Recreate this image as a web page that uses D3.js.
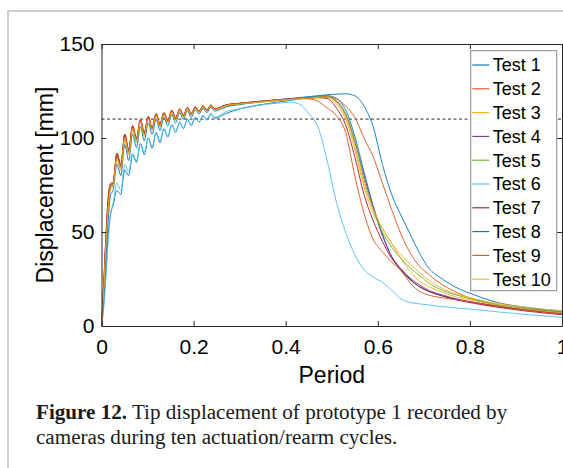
<!DOCTYPE html>
<html>
<head>
<meta charset="utf-8">
<script src="https://cdn.jsdelivr.net/npm/d3@7"></script>
<style>
  body { margin: 0; background: #fff; }
  svg { display: block; }
  .tick text { font-family: "Liberation Sans", Arial, sans-serif; }
</style>
</head>
<body>
<div id="chart"></div>
<script>
// shared period grid (x values)
const period = [0, 0.005, 0.01, 0.015, 0.02,
  0.025, 0.0335, 0.042, 0.0505, 0.059, 0.0675, 0.076, 0.0845, 0.093, 0.1015, 0.11, 0.1185, 0.127, 0.1355,
  0.144, 0.1525, 0.161, 0.1695, 0.178, 0.1865, 0.195, 0.2035, 0.212, 0.2205, 0.229, 0.2375, 0.246,
  0.27, 0.30, 0.34, 0.38, 0.41, 0.43, 0.45, 0.47, 0.49, 0.51, 0.53, 0.55, 0.57, 0.59, 0.61, 0.63,
  0.65, 0.67, 0.69, 0.71, 0.74, 0.77, 0.81, 0.86, 0.92, 1.0];

// displacement [mm] per test, one value per period entry
const test1 = [0, 12, 30, 50, 60,
  64, 72, 70, 83, 80, 91, 87, 97, 91, 100, 94.5, 103, 97.5, 105, 100.5, 107, 103, 108.5, 105, 110, 106.5, 111, 108.5, 112, 109.5, 113, 110.5,
  113, 115.5, 117.5, 119, 120, 120.8, 121.3, 122, 122.5, 121, 115, 101, 82, 64, 49, 37, 30, 24.5, 21, 18.5, 16, 14, 12.5, 10.5, 9, 7.5];
const test2 = [0, 24, 50, 70, 76,
  76, 92, 86, 102, 94, 106.5, 100, 109.5, 103, 111.5, 105.5, 113, 107.5, 113.5, 109.5, 114.8, 110.8, 115.5, 112.2, 116.3, 113, 116.6, 114.4, 117.1, 115, 117.6, 115.6,
  117, 118, 119, 120, 120.5, 121, 121.3, 121.6, 121.8, 121, 117, 111, 100, 90, 76, 62, 49, 39, 32, 27.5, 22, 18, 14, 11, 9, 7];
const test3 = [0, 18, 42, 63, 73,
  74, 88.5, 83, 99.5, 91, 104.5, 97.5, 108.2, 100.8, 110, 104, 111.8, 105.8, 112.5, 108, 113.8, 109.4, 114.6, 111, 115.5, 112, 115.8, 113.6, 116.4, 114.3, 117, 115,
  117, 118, 119, 119.8, 120.3, 120.7, 121, 121.3, 121.5, 118, 110, 94, 74, 60, 52, 44, 36, 29, 24, 21, 18, 15.5, 13.5, 11, 9, 7];
const test4 = [0, 21, 46, 66, 74.5,
  75.5, 90.5, 84.5, 101, 92.5, 105.8, 99, 109.3, 102, 110.8, 104.8, 112.5, 106.5, 113, 108.8, 114.3, 110, 115, 111.5, 116, 112.5, 116.1, 114, 116.8, 114.6, 117.3, 115.3,
  117.5, 118.4, 119.3, 120.2, 120.8, 121.2, 121.6, 122, 122, 119.5, 112.5, 98, 80, 63, 48, 37, 30.5, 25.5, 22, 19, 16.5, 14.5, 12.5, 10.5, 8.5, 6.5];
const test5 = [0, 20, 45, 65.5, 74,
  75, 90, 84.2, 100.8, 92.3, 105.6, 98.8, 109.2, 101.8, 110.7, 104.7, 112.4, 106.3, 113, 108.6, 114.2, 109.9, 115, 111.5, 115.9, 112.5, 116, 114, 116.7, 114.6, 117.3, 115.3,
  117.5, 118.4, 119.3, 120.2, 120.8, 121.3, 121.7, 122.1, 122.3, 120, 113, 99, 78, 62, 50, 42, 36, 31, 27, 23, 19, 16.5, 14, 11.5, 9.5, 7.5];
const test6 = [0, 10, 28, 47, 60,
  65, 76, 72, 86, 82, 92, 88, 97, 92.5, 100, 95.5, 102.5, 98.5, 104.5, 101, 106.5, 103.5, 108, 105.5, 109.5, 107, 110.5, 108.5, 111.5, 109.8, 112.5, 111,
  114, 115.5, 117.3, 118.5, 119, 118, 113, 106, 88, 66, 50, 38, 30, 26, 23.3, 19, 14.5, 12.5, 11.8, 11.2, 10.3, 9.6, 8.8, 7.5, 6.2, 4.6];
const test7 = [0, 23, 49, 69, 75.5,
  76, 91.8, 85.5, 102, 93.5, 106.5, 99.8, 109.8, 102.8, 111.3, 105.2, 113, 107.2, 113.4, 109.3, 114.7, 110.5, 115.3, 112, 116.2, 113, 116.4, 114.3, 117, 114.9, 117.5, 115.5,
  117.6, 118.5, 119.4, 120.2, 120.7, 121, 121.3, 121.5, 121, 116, 107, 90, 70, 56, 45, 36, 30, 25, 21, 18.5, 16, 14, 12, 10, 8, 6];
const test8 = [0, 16, 38, 58, 70,
  72, 86, 80, 96.5, 88, 102, 95, 106, 98.5, 108, 102, 110, 104, 111, 106.5, 112.5, 108, 113.5, 110, 114.5, 111, 115, 112.8, 115.8, 113.5, 116.4, 114.3,
  116.5, 117.8, 119.2, 120.3, 121, 121.5, 122, 122.5, 123, 123.3, 123.5, 122.5, 117, 106, 86, 70, 59, 49, 39, 31, 25, 20.5, 16.5, 12.5, 10, 8];
const test9 = [0, 22, 48, 68, 75,
  76, 91.5, 85, 101.5, 93, 106, 99.5, 109.8, 102.5, 111.2, 105, 112.8, 107, 113.3, 109, 114.5, 110.3, 115.2, 111.8, 116, 112.8, 116.3, 114.2, 116.9, 114.8, 117.4, 115.4,
  117.5, 118.5, 119.5, 120.3, 120.8, 121, 120.8, 119.5, 116, 112, 103, 80, 60, 46, 39.5, 34, 29.5, 23, 18.5, 16.5, 15, 14, 12.5, 10.5, 8.5, 6.5];
const test10 = [0, 19, 44, 64, 73.5,
  74.5, 89, 83.5, 100, 91.5, 105, 98, 108.6, 101, 110.2, 104.2, 112, 106, 112.6, 108.2, 113.9, 109.5, 114.7, 111.1, 115.6, 112.1, 115.8, 113.7, 116.5, 114.4, 117.1, 115,
  117.2, 118.1, 119, 119.9, 120.5, 120.9, 121.3, 121.6, 121.8, 119, 111.5, 96, 76, 62, 52, 44, 38, 33, 28.5, 24.5, 20, 17, 14.5, 12, 10, 8];

const testNames = ["Test 1", "Test 2", "Test 3", "Test 4", "Test 5", "Test 6", "Test 7", "Test 8", "Test 9", "Test 10"];
const testValues = [test1, test2, test3, test4, test5, test6, test7, test8, test9, test10];
const colours = ["#0072BD", "#D95319", "#EDB120", "#7E2F8E", "#77AC30", "#4DBEEE", "#A2142F", "#0072BD", "#D95319", "#EDB120"];

const xTicks = [0, 0.2, 0.4, 0.6, 0.8, 1];
const yTicks = [0, 50, 100, 150];
const threshold = 110;

const width = 563;
const height = 468;
const plot = { left: 101.5, right: 562, top: 44, bottom: 326 };
const axisColour = "#262626";
const sans = "'Liberation Sans', Arial, sans-serif";

const svg = d3.select("#chart").append("svg")
  .attr("width", width)
  .attr("height", height);

svg.append("rect").attr("width", width).attr("height", height).attr("fill", "#fff");

// page frame (light gray)
svg.append("path")
  .attr("d", `M8,${height} L8,11 L${width},11`)
  .attr("fill", "none")
  .attr("stroke", "#cdcdcd")
  .attr("stroke-width", 2);

const x = d3.scaleLinear().domain([0, 1]).range([plot.left, plot.right]);
const y = d3.scaleLinear().domain([0, 150]).range([plot.bottom, plot.top]);

// threshold line
svg.append("line")
  .attr("x1", x(0)).attr("x2", x(1))
  .attr("y1", y(threshold)).attr("y2", y(threshold))
  .attr("stroke", "#858585")
  .attr("stroke-width", 1.8)
  .attr("stroke-dasharray", "3,2.5");

const line = d3.line()
  .x((d, i) => x(period[i]))
  .y((d) => y(d))
  .curve(d3.curveMonotoneX);

svg.append("g")
  .selectAll("path")
  .data(testValues)
  .join("path")
  .attr("d", (d) => line(d))
  .attr("fill", "none")
  .attr("stroke", (d, i) => colours[i])
  .attr("stroke-width", 0.9)
  .attr("stroke-linejoin", "round");

function styleAxis(g) {
  g.select(".domain").attr("stroke", axisColour).attr("stroke-width", 1);
  g.selectAll(".tick line").attr("stroke", axisColour);
  g.selectAll(".tick text").attr("fill", "#000").style("font-size", "21px").style("font-family", sans);
}

svg.append("g")
  .attr("transform", `translate(0,${plot.bottom})`)
  .call(d3.axisBottom(x).tickValues(xTicks).tickFormat(String).tickSizeInner(-5).tickSizeOuter(0).tickPadding(13))
  .call(styleAxis);

svg.append("g")
  .attr("transform", `translate(0,${plot.top})`)
  .call(d3.axisTop(x).tickValues(xTicks).tickFormat("").tickSizeInner(-5).tickSizeOuter(0))
  .call(styleAxis);

svg.append("g")
  .attr("transform", `translate(${plot.left},0)`)
  .call(d3.axisLeft(y).tickValues(yTicks).tickSizeInner(-5).tickSizeOuter(0).tickPadding(7))
  .call(styleAxis);

svg.append("g")
  .attr("transform", `translate(${plot.right},0)`)
  .call(d3.axisRight(y).tickValues(yTicks).tickFormat("").tickSizeInner(-5).tickSizeOuter(0))
  .call(styleAxis);

// axis titles
svg.append("text")
  .attr("x", (plot.left + plot.right) / 2)
  .attr("y", 383)
  .attr("text-anchor", "middle")
  .style("font-family", sans)
  .style("font-size", "23px")
  .text("Period");

svg.append("text")
  .attr("transform", `translate(52.5,${(plot.top + plot.bottom) / 2}) rotate(-90)`)
  .attr("text-anchor", "middle")
  .style("font-family", sans)
  .style("font-size", "23px")
  .text("Displacement [mm]");

// legend
const legend = svg.append("g");
legend.append("rect")
  .attr("x", 470.7).attr("y", 50.7)
  .attr("width", 86).attr("height", 240)
  .attr("fill", "#fff")
  .attr("stroke", "#8a8a8a")
  .attr("stroke-width", 1);

const rows = legend.selectAll("g.row")
  .data(testNames)
  .join("g")
  .attr("class", "row")
  .attr("transform", (d, i) => `translate(0,${65 + i * 23.8})`);

rows.append("line")
  .attr("x1", 472.3).attr("x2", 489.3)
  .attr("stroke", (d, i) => colours[i])
  .attr("stroke-width", 1.1);

rows.append("text")
  .attr("x", 492.7)
  .attr("dy", "0.36em")
  .style("font-family", sans)
  .style("font-size", "18px")
  .text((d) => d);

// caption
const caption = svg.append("text")
  .style("font-family", "'Liberation Serif', 'Times New Roman', serif")
  .style("font-size", "21.1px")
  .attr("fill", "#1a1a1a");

const line1 = caption.append("tspan").attr("x", 36).attr("y", 419);
line1.append("tspan").style("font-weight", "bold").text("Figure 12.");
line1.append("tspan").text(" Tip displacement of prototype 1 recorded by");
caption.append("tspan").attr("x", 36).attr("y", 444).text("cameras during ten actuation/rearm cycles.");
</script>
</body>
</html>
